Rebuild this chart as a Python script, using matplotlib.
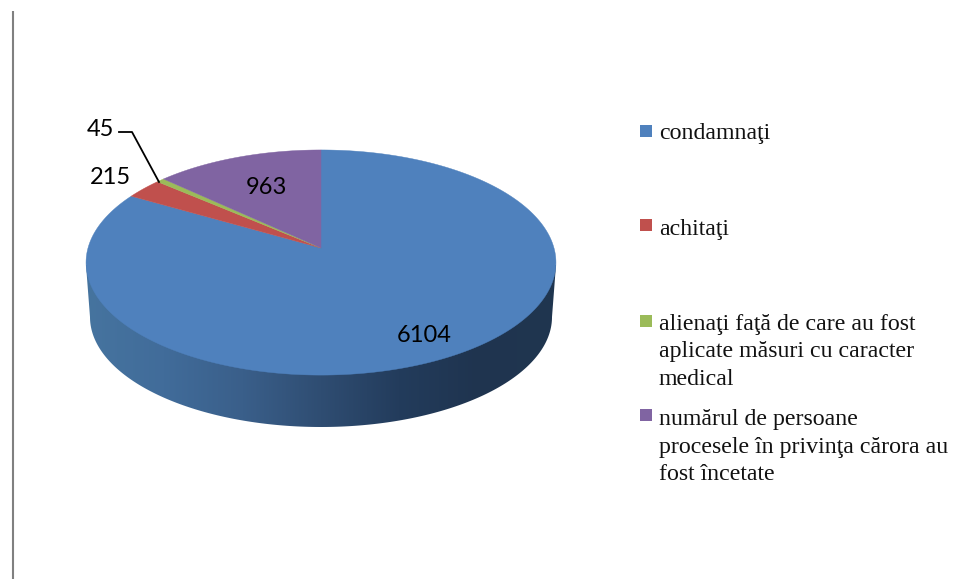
import numpy as np
import matplotlib
matplotlib.use('Agg')
import matplotlib.pyplot as plt
from matplotlib.colors import LinearSegmentedColormap
from matplotlib.patches import Polygon, Rectangle

categories = ['condamnaţi', 'achitaţi',
              'alienaţi faţă de care au fost\naplicate măsuri cu caracter\nmedical',
              'numărul de persoane\nprocesele în privinţa cărora au\nfost încetate']
values = [6104, 215, 45, 963]
colors = ['#4F81BD', '#C0504D', '#9BBB59', '#8064A2']
wall_colors = ['#46749F', '#416C9A', '#3A5F8A', '#2F4D72', '#233C5C', '#1F344F', '#203650']

W, H = 954, 579

fig = plt.figure(figsize=(W / 100, H / 100), dpi=100)
ax = fig.add_axes([0, 0, 1, 1])
ax.set_xlim(0, W)
ax.set_ylim(H, 0)
ax.axis('off')


# tilted disc: unit circle -> pixels, with perspective
def disc(t):
    u, v = np.cos(t), np.sin(t)
    d = 0.129 * v + 1
    return 321 + 233 * u / d, (248 - 78.7 * v) / d


# left rule of the page
ax.plot([13, 13], [11, H], color='#808080', lw=1.5, solid_capstyle='butt')

# side wall with horizontal gradient
t = np.linspace(0, np.pi, 200)
wall = np.column_stack([321 + 231 * np.cos(t), 317 + 110 * np.sin(t)])
wall = np.vstack([[556, 265], wall, [86, 265]])
clip = Polygon(wall, closed=True, transform=ax.transData, fc='none', ec='none')
ax.add_patch(clip)
cmap = LinearSegmentedColormap.from_list('wall', wall_colors)
img = ax.imshow(np.linspace(0, 1, 256).reshape(1, -1), cmap=cmap, aspect='auto',
                extent=[85, 557, 440, 250], zorder=1)
img.set_clip_path(clip)
ax.set_xlim(0, W)
ax.set_ylim(H, 0)

# top face, clockwise from 12 o'clock
start = np.pi / 2
for val, col in zip(values, colors):
    end = start - 2 * np.pi * val / sum(values)
    a = np.linspace(start, end, 300)
    x, y = disc(a)
    x = np.r_[321, x]
    y = np.r_[248, y]
    ax.fill(x, y, color=col, lw=0.3, zorder=2)
    start = end

# data labels
lab = dict(family='Lato', fontsize=17, color='black', ha='center', va='center', zorder=4)
ax.text(424, 336, str(values[0]), **lab)
ax.text(110, 177, str(values[1]), **lab)
ax.text(100, 129, str(values[2]), **lab)
ax.text(266, 187, str(values[3]), **lab)
ax.plot([119, 132, 159], [132, 132, 182], color='black', lw=1.3, zorder=4)

# legend
box_y = [125, 219, 315, 409]
text_y = [139, 235, 330, 425]
for name, col, by, ty in zip(categories, colors, box_y, text_y):
    ax.add_patch(Rectangle((640, by), 12, 12, fc=col, ec='none', zorder=3))
    for i, line in enumerate(name.split('\n')):
        ax.text(659, ty + i * 27.5, line, family='Liberation Serif', fontsize=17.2,
                color='#111111', ha='left', va='baseline')

fig.savefig('out.png', dpi=100)
